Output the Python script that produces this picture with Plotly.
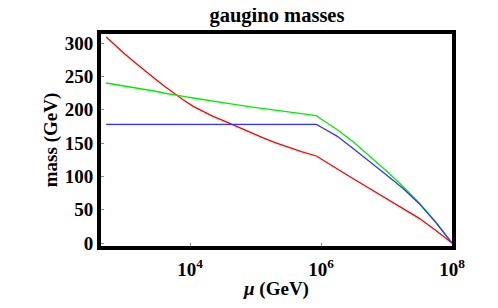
import plotly.graph_objects as go

# log10(mu / GeV) sample points
log_mu = [2.72, 2.85, 3.0, 3.15, 3.3, 3.45, 3.6, 3.75, 3.9, 4.05, 4.2, 4.35,
          4.5, 4.7, 4.9, 5.1, 5.3, 5.5, 5.7, 5.93,
          6.0, 6.25, 6.5, 6.75, 7.0, 7.25, 7.5, 7.75, 8.0]
mu = [10 ** v for v in log_mu]

# gaugino masses (GeV)
m_red = [309, 297, 284, 271.5, 259, 247.5, 236, 225, 214.5, 205, 197, 190,
         184, 175.2, 166.6, 158.4, 150.6, 143.4, 137, 130.5,
         126.5, 111, 96, 81, 66, 52, 37, 19, 0]
m_green = [240, 238, 235, 233, 230, 228, 225, 223, 220, 217.5, 215, 212.5,
           210.5, 207.5, 204.5, 202, 199, 196.5, 194, 191,
           186, 170, 151, 130, 108, 85, 60, 32, 0]
m_blue = [178] * 20 + [174, 160, 141, 122, 102, 82, 59, 31, 0]

x_tickvals = [1e4, 1e6, 1e8]
x_ticktext = ["10<sup>4</sup>", "10<sup>6</sup>", "10<sup>8</sup>"]
y_tickvals = [0, 50, 100, 150, 200, 250, 300]

font = "Times New Roman, Liberation Serif, serif"

fig = go.Figure()
fig.add_trace(go.Scatter(x=mu, y=m_red, mode="lines", line=dict(color="#ff0000", width=1.3)))
fig.add_trace(go.Scatter(x=mu, y=m_green, mode="lines", line=dict(color="#00ee00", width=1.3)))
fig.add_trace(go.Scatter(x=mu, y=m_blue, mode="lines", line=dict(color="#3333ff", width=1.3)))

fig.update_layout(
    width=482, height=292,
    margin=dict(l=93, r=38, t=26, b=54),
    paper_bgcolor="white", plot_bgcolor="white",
    showlegend=False,
    title=dict(text="<b>gaugino masses</b>", x=0.558, xanchor="center",
               y=0.978, yanchor="middle", yref="container",
               font=dict(family=font, size=20.5, color="black")),
    font=dict(family=font, color="black"),
)
fig.update_xaxes(
    type="log", range=[2.641, 8.0], automargin=False,
    tickvals=x_tickvals, ticktext=x_ticktext,
    ticks="inside", ticklen=3, tickcolor="#888", tickwidth=1,
    ticklabelstandoff=3,
    showgrid=False, zeroline=False,
    showline=True, mirror=True, linecolor="black", linewidth=4,
    tickfont=dict(family=font, size=19, color="black", weight="bold"),
    title=dict(text="<b><i>μ</i> (GeV)</b>", font=dict(family=font, size=19, color="black"), standoff=15),
)
fig.update_yaxes(
    range=[-4.5, 313.5], automargin=False,
    tickvals=y_tickvals,
    ticks="inside", ticklen=3, tickcolor="#888", tickwidth=1,
    showgrid=False, zeroline=False,
    showline=True, mirror=True, linecolor="black", linewidth=4,
    tickfont=dict(family=font, size=19, color="black", weight="bold"),
    title=dict(text="<b>mass (GeV)</b>", font=dict(family=font, size=19, color="black"), standoff=3),
)

fig.write_html("out.html")
